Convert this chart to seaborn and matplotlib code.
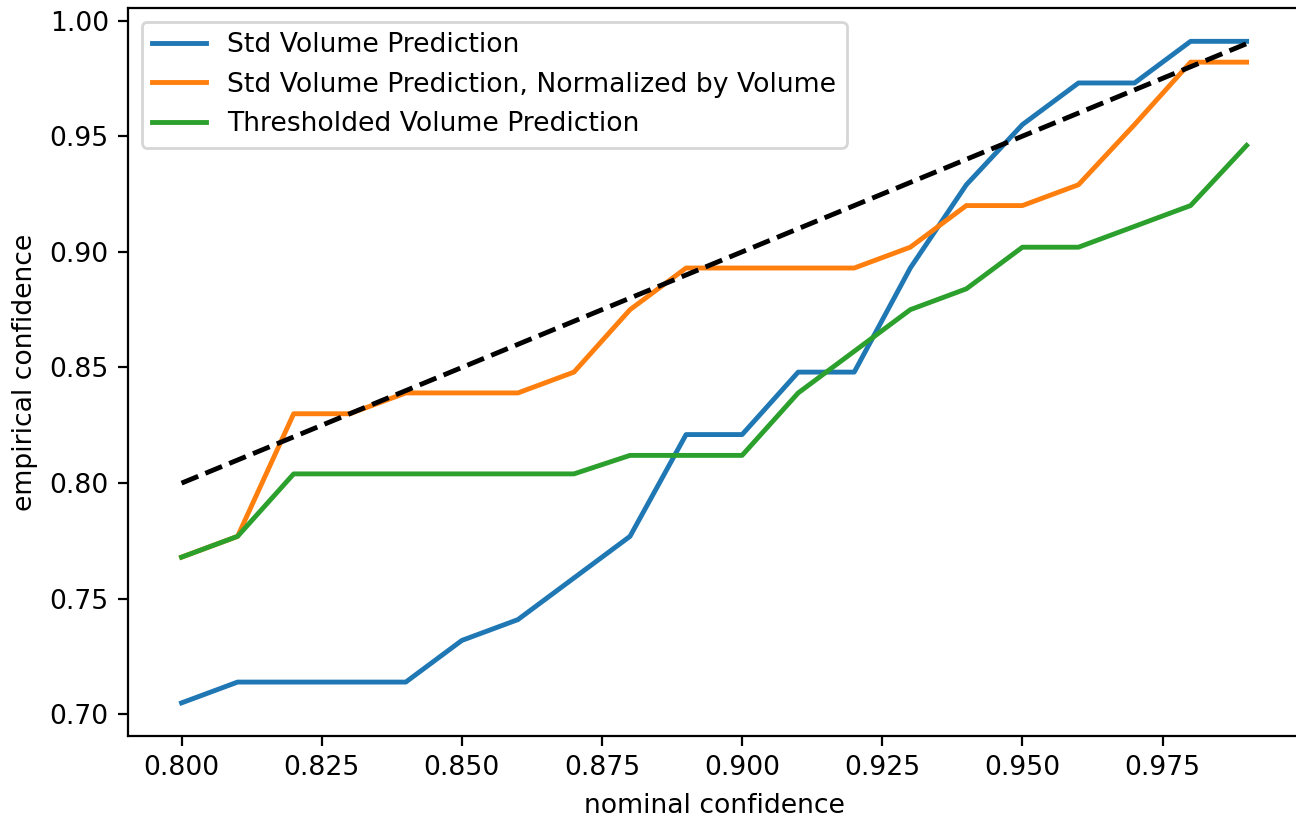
import numpy as np
import pandas as pd
import matplotlib
matplotlib.use("Agg")
import matplotlib.pyplot as plt
import seaborn as sns

# nominal confidence levels
nominal = [0.80, 0.81, 0.82, 0.83, 0.84, 0.85, 0.86, 0.87, 0.88, 0.89,
           0.90, 0.91, 0.92, 0.93, 0.94, 0.95, 0.96, 0.97, 0.98, 0.99]

# empirical coverage
std_pred = [0.705, 0.714, 0.714, 0.714, 0.714, 0.732, 0.741, 0.759, 0.777, 0.821,
            0.821, 0.848, 0.848, 0.893, 0.929, 0.955, 0.973, 0.973, 0.991, 0.991]
std_norm = [0.768, 0.777, 0.830, 0.830, 0.839, 0.839, 0.839, 0.848, 0.875, 0.893,
            0.893, 0.893, 0.893, 0.902, 0.920, 0.920, 0.929, 0.955, 0.982, 0.982]
thresh = [0.768, 0.777, 0.804, 0.804, 0.804, 0.804, 0.804, 0.804, 0.812, 0.812,
          0.812, 0.839, 0.857, 0.875, 0.884, 0.902, 0.902, 0.911, 0.920, 0.946]

labels = ["Std Volume Prediction",
          "Std Volume Prediction, Normalized by Volume",
          "Thresholded Volume Prediction"]

df = pd.concat([
    pd.DataFrame({"nominal": nominal, "empirical": vals, "method": lab})
    for lab, vals in zip(labels, [std_pred, std_norm, thresh])
], ignore_index=True)

plt.rcParams["font.size"] = 9.6

fig, ax = plt.subplots(figsize=(6.48, 4.13), dpi=200)
fig.subplots_adjust(left=0.099, right=1.003, top=0.990, bottom=0.109)

sns.lineplot(data=df, x="nominal", y="empirical", hue="method", hue_order=labels,
             palette=["#1f77b4", "#ff7f0e", "#2ca02c"], linewidth=1.75, ax=ax)

# ideal calibration
ax.plot(nominal, nominal, color="black", linestyle="--", linewidth=1.75)

handles, labs = ax.get_legend_handles_labels()
ax.legend(handles[:3], labs[:3], loc="upper left")

ax.set_xlabel("nominal confidence")
ax.set_ylabel("empirical confidence")
ax.set_xticks([0.800, 0.825, 0.850, 0.875, 0.900, 0.925, 0.950, 0.975])
ax.set_xticklabels(["0.800", "0.825", "0.850", "0.875", "0.900", "0.925", "0.950", "0.975"])

fig.savefig("out.png", dpi=200)
